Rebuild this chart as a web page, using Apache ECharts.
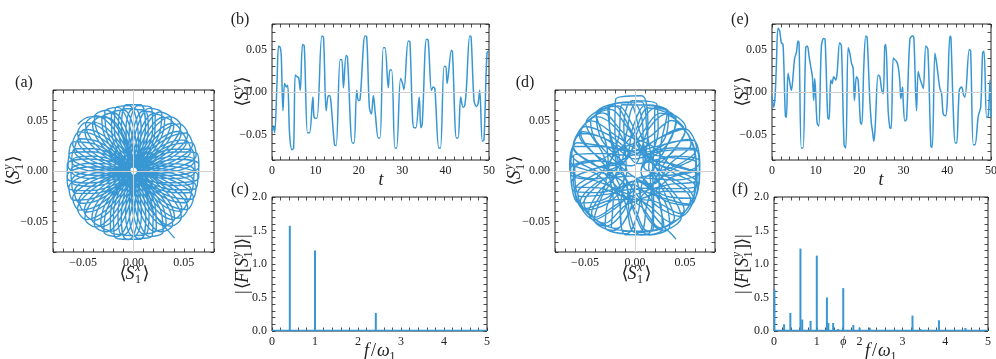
<!DOCTYPE html>
<html>
<head>
<meta charset="utf-8">
<script src="https://cdn.jsdelivr.net/npm/echarts@6.0.0/dist/echarts.min.js"></script>
<style>
  html, body { margin: 0; padding: 0; background: #fff; }
  #chart { width: 996px; height: 359px; }
</style>
</head>
<body>
<div id="chart"></div>
<script>
var BLUE = '#3897d3';
var INK = '#222';
var SERIF = "'Liberation Serif', 'DejaVu Serif', serif";

// (b) time trace <S1^y>(t) as [t, value]
var traceB = [
  [0,-0.046],[0.15,-0.044],[0.38,-0.04],[0.61,-0.048],[1.15,0.01],[1.53,0.054],[1.91,0.052],[2.14,0.042],
  [2.53,-0.022],[2.91,0.01],[3.29,0.006],[3.6,0.008],[4.06,-0.05],[4.59,-0.068],[4.98,-0.066],
  [5.36,0.02],[5.74,0.018],[6.13,0.017],[6.51,0.002],[7.04,0.056],[7.43,0.054],[8.19,-0.048],[8.65,-0.048],
  [9.42,-0.006],[9.72,-0.03],[10.34,-0.031],[11.49,0.066],[11.87,0.064],[12.48,-0.022],[12.86,-0.006],
  [13.25,-0.004],[13.55,-0.01],[14.4,-0.062],[14.78,-0.063],[15.7,0.038],[16.08,0.038],[16.46,0.005],
  [17.08,0.043],[17.38,0.041],[18.53,-0.06],[18.91,-0.06],[19.53,0.002],[19.91,-0.01],[20.29,-0.009],
  [21.44,0.066],[21.82,0.065],[22.43,-0.018],[22.89,-0.026],[23.35,-0.004],[23.81,-0.026],[24.5,-0.054],
  [24.89,-0.054],[25.65,0.052],[26.03,0.052],[26.8,0.005],[27.18,0.026],[27.57,0.026],[28.33,-0.066],
  [28.71,-0.066],[29.63,0.016],[30.09,0.01],[30.4,0.003],[31.39,0.06],[31.78,0.059],[32.39,-0.032],
  [32.77,-0.042],[33.15,-0.042],[33.92,-0.006],[34.3,-0.042],[34.61,-0.038],[35.6,0.062],[35.99,0.061],
  [36.75,0.002],[37.14,0.006],[37.52,0.004],[38.44,-0.066],[38.82,-0.066],[39.66,0.03],[40.05,0.03],
  [40.35,0.01],[41.35,0.049],[41.58,0.047],[42.5,-0.054],[42.88,-0.054],[43.49,-0.006],[44.03,-0.018],
  [44.41,-0.016],[44.79,0.004],[45.56,0.066],[45.87,0.065],[46.55,-0.01],[47.09,-0.017],[47.47,-0.014],
  [47.86,0.002],[48.47,-0.058],[48.85,-0.056],[49.54,0.046],[50,0.048]
];

// (e) time trace <S1^y>(t)
var traceE = [
  [0,-0.004],[0.08,-0.01],[0.38,-0.018],[0.69,-0.006],[0.99,0.03],[1.37,0.075],[1.75,0.072],[2.13,0.058],
  [2.52,0.056],[3.05,-0.028],[3.28,-0.03],[3.66,0.022],[4.04,0.012],[4.42,0.002],[4.73,0.014],[5.18,0.04],
  [5.56,0.046],[5.95,0.06],[6.17,0.058],[6.71,-0.066],[7.09,-0.066],[7.7,0.052],[8.08,0.054],[8.46,0.042],
  [8.84,0.03],[9.22,0.018],[9.53,-0.01],[9.76,0.016],[10.29,-0.036],[10.67,-0.04],[11.28,0.054],
  [11.81,0.063],[12.12,0.062],[12.73,-0.03],[13.03,-0.032],[13.41,0.014],[13.72,0.01],[14.1,0.018],
  [14.56,0.014],[14.86,0.022],[15.47,0.058],[15.85,0.054],[16.46,-0.062],[16.84,-0.066],[17.38,0.052],
  [17.76,0.046],[18.14,0.034],[18.52,0.028],[18.83,-0.01],[19.28,0.018],[19.66,0.014],[20.2,-0.036],
  [20.5,-0.038],[20.96,0.03],[21.42,0.066],[21.72,0.064],[22.33,-0.01],[22.71,-0.038],[22.94,-0.046],
  [23.25,-0.058],[23.55,-0.042],[24.24,0.02],[24.62,0.018],[25.0,0.004],[25.38,-0.002],[25.76,0.054],
  [25.99,0.056],[26.52,-0.022],[26.91,-0.042],[27.21,-0.043],[27.67,0.04],[28.05,0.038],[28.43,0.036],
  [28.81,0.03],[29.19,0.012],[29.42,-0.008],[29.8,0.006],[29.95,-0.01],[30.34,-0.034],[30.72,-0.032],
  [31.48,0.062],[32.09,0.066],[32.39,0.063],[33.0,-0.022],[33.38,0.024],[33.77,0.016],[34.15,0.01],
  [34.53,0.004],[35.14,0.054],[35.59,0.05],[36.28,-0.064],[36.59,-0.065],[37.2,0.046],[37.58,0.034],
  [37.96,0.018],[38.34,0.004],[38.72,-0.002],[39.1,-0.026],[39.63,-0.028],[40.02,-0.01],[40.63,0.066],
  [40.85,0.064],[41.39,-0.022],[41.84,-0.06],[42.15,-0.06],[42.76,0.002],[43.29,0.006],[43.67,-0.002],
  [44.05,-0.006],[45.05,0.05],[45.35,0.048],[45.96,-0.062],[46.34,-0.062],[47.1,-0.028],[47.64,-0.018],
  [48.09,0.046],[48.4,0.048],[49.01,-0.03],[49.39,-0.028],[49.77,0.014],[50,-0.03]
];

// (c) and (f) spectra, [f / w1, |<F[S1^y]>|]
var specC = [[0.414,1.57],[1.0,1.2],[2.414,0.27]];
var specF = [
  [0.01,0.62],[0.236,0.1],[0.382,0.27],[0.618,1.23],[0.66,0.17],[0.854,0.15],[1.0,1.125],
  [1.236,0.5],[1.27,0.12],[1.382,0.12],[1.5,0.03],[1.618,0.64],[1.854,0.09],[2.0,0.05],
  [2.236,0.05],[2.5,0.015],[2.8,0.01],[3.236,0.23],[3.42,0.03],[3.854,0.16],[4.0,0.01],[4.472,0.045]
];
var floorC = [[0,0.006],[5,0.006]];
var floorF = [[0,0.008],[5,0.008]];

// (a) orbit (<S1^x>, <S1^y>) written as [radius, angle in degrees]
var orbitA = [
  [0.072,140],[0.069,129],[0.058,115],[0.030,104],
  [0.005,265],[0.045,345],[0.065,354],[0.065,6],[0.045,15],
  [0.004,95],[0.046,175],[0.066,184],[0.066,196],[0.046,205],
  [0.006,285],[0.044,5],[0.064,14],[0.064,26],[0.044,35],
  [0.005,115],[0.046,195],[0.066,204],[0.066,216],[0.046,225],
  [0.004,305],[0.045,25],[0.065,34],[0.065,46],[0.045,55],
  [0.005,135],[0.047,215],[0.067,224],[0.067,236],[0.047,245],
  [0.006,325],[0.044,45],[0.064,54],[0.064,66],[0.044,75],
  [0.005,155],[0.046,235],[0.067,244],[0.067,256],[0.046,265],
  [0.004,345],[0.045,65],[0.065,74],[0.065,86],[0.045,95],
  [0.005,175],[0.047,255],[0.068,264],[0.068,276],[0.047,285],
  [0.006,5],[0.045,85],[0.065,94],[0.065,106],[0.045,115],
  [0.005,195],[0.046,275],[0.067,284],[0.067,296],[0.046,305],
  [0.004,25],[0.046,105],[0.066,114],[0.066,126],[0.046,135],
  [0.005,215],[0.046,295],[0.066,304],[0.066,316],[0.046,325],
  [0.006,45],[0.047,125],[0.067,134],[0.067,146],[0.047,155],
  [0.005,235],[0.045,315],[0.065,324],[0.065,336],[0.045,345],
  [0.004,65],[0.046,145],[0.066,154],[0.066,166],[0.046,175],
  [0.005,255],[0.044,335],[0.064,344],[0.064,356],[0.044,5],
  [0.006,85],[0.046,165],[0.066,174],[0.066,186],[0.046,195],
  [0.005,275],[0.045,355],[0.065,4],[0.065,16],[0.045,25],
  [0.004,105],[0.046,185],[0.066,194],[0.066,206],[0.046,215],
  [0.005,295],[0.044,15],[0.064,24],[0.064,36],[0.044,45],
  [0.006,125],[0.047,205],[0.067,214],[0.067,226],[0.047,235],
  [0.005,315],[0.045,35],[0.065,44],[0.065,56],[0.045,65],
  [0.004,145],[0.046,225],[0.066,234],[0.066,246],[0.046,255],
  [0.005,335],[0.044,55],[0.064,64],[0.064,76],[0.044,85],
  [0.006,165],[0.047,245],[0.068,254],[0.068,266],[0.047,275],
  [0.005,355],[0.046,75],[0.066,84],[0.066,96],[0.046,105],
  [0.004,185],[0.046,265],[0.067,274],[0.067,286],[0.046,295],
  [0.005,15],[0.045,95],[0.065,104],[0.065,116],[0.045,125],
  [0.006,205],[0.046,285],[0.066,294],[0.066,306],[0.046,315],
  [0.005,35],[0.046,115],[0.066,124],[0.066,136],[0.046,145],
  [0.004,225],[0.045,305],[0.065,314],[0.065,326],[0.045,335],
  [0.005,55],[0.046,135],[0.066,144],[0.066,156],[0.046,165],
  [0.006,245],[0.044,325],[0.064,334],[0.064,346],[0.044,355],
  [0.005,75],[0.045,155],[0.065,164],[0.065,176],[0.045,185],
  [0.005,270],[0.043,350],[0.061,359],[0.061,11],[0.043,20],
  [0.004,100],[0.044,180],[0.062,189],[0.062,201],[0.044,210],
  [0.006,290],[0.042,10],[0.060,19],[0.060,31],[0.042,40],
  [0.005,120],[0.044,200],[0.062,209],[0.062,221],[0.044,230],
  [0.004,310],[0.043,30],[0.061,39],[0.061,51],[0.043,60],
  [0.005,140],[0.045,220],[0.063,229],[0.063,241],[0.045,250],
  [0.006,330],[0.042,50],[0.060,59],[0.060,71],[0.042,80],
  [0.005,160],[0.045,240],[0.064,249],[0.064,261],[0.045,270],
  [0.004,350],[0.043,70],[0.061,79],[0.061,91],[0.043,100],
  [0.005,180],[0.045,260],[0.064,269],[0.064,281],[0.045,290],
  [0.006,10],[0.043,90],[0.061,99],[0.061,111],[0.043,120],
  [0.005,200],[0.044,280],[0.063,289],[0.063,301],[0.044,310],
  [0.004,30],[0.044,110],[0.062,119],[0.062,131],[0.044,140],
  [0.005,220],[0.044,300],[0.062,309],[0.062,321],[0.044,330],
  [0.006,50],[0.045,130],[0.063,139],[0.063,151],[0.045,160],
  [0.005,240],[0.043,320],[0.061,329],[0.061,341],[0.043,350],
  [0.004,70],[0.044,150],[0.062,159],[0.062,171],[0.044,180],
  [0.005,260],[0.042,340],[0.060,349],[0.060,1],[0.042,10],
  [0.006,90],[0.044,170],[0.062,179],[0.062,191],[0.044,200],
  [0.005,280],[0.043,0],[0.061,9],[0.061,21],[0.043,30],
  [0.004,110],[0.044,190],[0.062,199],[0.062,211],[0.044,220],
  [0.005,300],[0.042,20],[0.060,29],[0.060,41],[0.042,50],
  [0.006,130],[0.045,210],[0.063,219],[0.063,231],[0.045,240],
  [0.005,320],[0.043,40],[0.061,49],[0.061,61],[0.043,70],
  [0.004,150],[0.044,230],[0.063,239],[0.063,251],[0.044,260],
  [0.005,340],[0.042,60],[0.060,69],[0.060,81],[0.042,90],
  [0.006,170],[0.045,250],[0.064,259],[0.064,271],[0.045,280],
  [0.005,0],[0.044,80],[0.062,89],[0.062,101],[0.044,110],
  [0.004,190],[0.044,270],[0.063,279],[0.063,291],[0.044,300],
  [0.005,20],[0.043,100],[0.061,109],[0.061,121],[0.043,130],
  [0.006,210],[0.044,290],[0.062,299],[0.062,311],[0.044,320],
  [0.005,40],[0.044,120],[0.062,129],[0.062,141],[0.044,150],
  [0.004,230],[0.043,310],[0.061,319],[0.061,331],[0.043,340],
  [0.005,60],[0.044,140],[0.062,149],[0.062,161],[0.044,170],
  [0.006,250],[0.042,330],[0.060,339],[0.060,351],[0.042,0],
  [0.005,80],[0.043,160],[0.061,169],[0.061,181],[0.043,190],
  [0.005,275],[0.045,296],[0.059,298],[0.068,300],[0.078,301.5]
];

// (d) orbit, same form
var orbitD = [
  [0.010,27],[0.044,73],[0.075,85],[0.074,105],[0.044,117],
  [0.015,164],[0.042,210],[0.062,222],[0.062,242],[0.042,254],
  [0.008,302],[0.043,348],[0.064,0],[0.064,20],[0.043,32],
  [0.018,80],[0.044,126],[0.066,138],[0.066,158],[0.044,170],
  [0.012,217],[0.043,263],[0.064,275],[0.064,295],[0.043,307],
  [0.006,354],[0.044,40],[0.066,52],[0.066,72],[0.044,84],
  [0.014,132],[0.043,178],[0.064,190],[0.064,210],[0.043,222],
  [0.010,270],[0.043,316],[0.064,328],[0.064,348],[0.043,0],
  [0.016,47],[0.045,93],[0.067,105],[0.067,125],[0.045,137],
  [0.008,184],[0.042,230],[0.063,242],[0.063,262],[0.042,274],
  [0.012,322],[0.043,8],[0.065,20],[0.065,40],[0.043,52],
  [0.020,100],[0.044,146],[0.065,158],[0.065,178],[0.044,190],
  [0.006,237],[0.043,283],[0.065,295],[0.065,315],[0.043,327],
  [0.014,14],[0.046,60],[0.070,72],[0.070,92],[0.046,104],
  [0.010,152],[0.042,198],[0.063,210],[0.063,230],[0.042,242],
  [0.018,290],[0.043,336],[0.065,348],[0.065,8],[0.043,20],
  [0.008,67],[0.044,113],[0.066,125],[0.066,145],[0.044,157],
  [0.012,204],[0.043,250],[0.064,262],[0.064,282],[0.043,294],
  [0.016,342],[0.044,28],[0.066,40],[0.066,60],[0.044,72],
  [0.006,120],[0.043,166],[0.064,178],[0.064,198],[0.043,210],
  [0.014,257],[0.043,303],[0.064,315],[0.064,335],[0.043,347],
  [0.010,34],[0.045,80],[0.068,92],[0.068,112],[0.045,124],
  [0.018,172],[0.042,218],[0.063,230],[0.063,250],[0.042,262],
  [0.008,310],[0.043,356],[0.065,8],[0.065,28],[0.043,40],
  [0.012,87],[0.044,133],[0.065,145],[0.065,165],[0.044,177],
  [0.016,224],[0.043,270],[0.065,282],[0.065,302],[0.043,314],
  [0.006,2],[0.045,48],[0.067,60],[0.067,80],[0.045,92],
  [0.014,140],[0.042,186],[0.063,198],[0.063,218],[0.042,230],
  [0.010,277],[0.043,323],[0.064,335],[0.064,355],[0.043,7],
  [0.018,54],[0.044,100],[0.066,112],[0.066,132],[0.044,144],
  [0.022,324],[0.036,12],[0.062,26],[0.062,54],[0.036,68],
  [0.026,115],[0.037,163],[0.060,177],[0.060,205],[0.037,219],
  [0.018,266],[0.036,314],[0.062,328],[0.062,356],[0.036,10],
  [0.030,57],[0.038,105],[0.066,119],[0.066,147],[0.038,161],
  [0.020,208],[0.036,256],[0.061,270],[0.061,298],[0.036,312],
  [0.024,359],[0.038,47],[0.066,61],[0.066,89],[0.038,103],
  [0.016,150],[0.036,198],[0.060,212],[0.060,240],[0.036,254],
  [0.028,301],[0.036,349],[0.061,3],[0.061,31],[0.036,45],
  [0.020,92],[0.038,140],[0.064,154],[0.064,182],[0.038,196],
  [0.024,243],[0.036,291],[0.062,305],[0.062,333],[0.036,347],
  [0.018,34],[0.038,82],[0.069,96],[0.069,124],[0.038,138],
  [0.026,185],[0.036,233],[0.060,247],[0.060,275],[0.036,289],
  [0.022,336],[0.037,24],[0.063,38],[0.063,66],[0.037,80],
  [0.016,127],[0.037,175],[0.062,189],[0.062,217],[0.037,231],
  [0.028,278],[0.036,326],[0.061,340],[0.061,8],[0.036,22],
  [0.020,69],[0.038,117],[0.066,131],[0.066,159],[0.038,173],
  [0.024,220],[0.036,268],[0.061,282],[0.061,310],[0.036,324],
  [0.018,11],[0.038,59],[0.067,73],[0.067,101],[0.038,115],
  [0.026,162],[0.036,210],[0.060,224],[0.060,252],[0.036,266],
  [0.022,313],[0.036,1],[0.062,15],[0.062,43],[0.036,57],
  [0.016,104],[0.037,152],[0.063,166],[0.063,194],[0.037,208],
  [0.028,255],[0.036,303],[0.062,317],[0.062,345],[0.036,359],
  [0.020,46],[0.038,94],[0.068,108],[0.068,136],[0.038,150],
  [0.024,197],[0.036,245],[0.061,259],[0.061,287],[0.036,301],
  [0.018,348],[0.037,36],[0.064,50],[0.064,78],[0.037,92],
  [0.026,139],[0.036,187],[0.061,201],[0.061,229],[0.036,243],
  [0.022,290],[0.036,338],[0.062,352],[0.062,20],[0.036,34],
  [0.016,81],[0.038,129],[0.065,143],[0.065,171],[0.038,185],
  [0.028,232],[0.036,280],[0.062,294],[0.062,322],[0.036,336],
  [0.020,23],[0.038,71],[0.069,85],[0.069,113],[0.038,127],
  [0.012,225],[0.045,292],[0.062,297],[0.072,300],[0.079,301]
];

// tick labels
var spinTicks = [-0.05, 0, 0.05];
var timeTicks = [0, 10, 20, 30, 40, 50];
var ampTicks = [0, 0.5, 1, 1.5, 2];
var freqTicks = [0, 1, 2, 3, 4, 5];
var freqTicksF = [0, 1, 1.618, 2, 3, 4, 5];

var fmtSpin = function (v) { return (v < -1e-9 ? '\u2212' : '') + Math.abs(v).toFixed(2); };
var fmtAmp = function (v) { return v.toFixed(1); };
var fmtInt = function (v) { return String(Math.round(v)); };
var fmtFreqF = function (v) { return Math.abs(v - 1.618) < 1e-6 ? '{phi|\u03d5}' : String(Math.round(v)); };

var spin = {min: -0.08, max: 0.08, step: 0.01, ticks: spinTicks, fmt: fmtSpin};
var time = {min: 0, max: 50, step: 2, ticks: timeTicks, fmt: fmtInt};
var amp = {min: 0, max: 2, step: 0.1, ticks: ampTicks, fmt: fmtAmp};
var freq = {min: 0, max: 5, step: 0.2, ticks: freqTicks, fmt: fmtInt};
var freqF = {min: 0, max: 5, step: 0.2, ticks: freqTicksF, fmt: fmtFreqF};

var grids = [
  {left: 53, top: 90, width: 161, height: 162},
  {left: 272, top: 24, width: 217, height: 136},
  {left: 272, top: 197, width: 215, height: 134},
  {left: 555, top: 90, width: 160, height: 162},
  {left: 772, top: 24, width: 219, height: 136},
  {left: 774, top: 197, width: 214, height: 134}
];

var xAxes = [], yAxes = [];
function axis(g, s, pos, labels) {
  return {
    gridIndex: g, type: 'value', position: pos,
    min: s.min, max: s.max, interval: s.step,
    axisLine: {show: false, onZero: false},
    axisTick: {show: true, inside: true, length: 3.5, lineStyle: {color: INK, width: 0.8}},
    splitLine: {show: false},
    axisLabel: labels ? {
      show: true, customValues: s.ticks, formatter: s.fmt,
      color: INK, fontFamily: SERIF, fontSize: 12, margin: 5,
      showMinLabel: true, showMaxLabel: true,
      rich: {phi: {fontFamily: SERIF, fontStyle: 'italic', fontSize: 12, color: INK}}
    } : {show: false}
  };
}
function addAxes(g, xs, ys) {
  xAxes.push(axis(g, xs, 'bottom', true), axis(g, xs, 'top', false));
  yAxes.push(axis(g, ys, 'left', true), axis(g, ys, 'right', false));
}
addAxes(0, spin, spin);
addAxes(1, time, spin);
addAxes(2, freq, amp);
addAxes(3, spin, spin);
addAxes(4, time, spin);
addAxes(5, freqF, amp);

function zeroLines(g, both) {
  var d = [{yAxis: 0}];
  if (both) d.push({xAxis: 0});
  return {
    type: 'line', xAxisIndex: 2 * g, yAxisIndex: 2 * g, data: [], z: 1,
    markLine: {silent: true, symbol: 'none', label: {show: false},
      lineStyle: {color: '#cfcfcf', width: 1, type: 'solid'}, data: d}
  };
}
function trace(g, data) {
  return {type: 'line', xAxisIndex: 2 * g, yAxisIndex: 2 * g, data: data, z: 3,
    smooth: 0.35, showSymbol: false, lineStyle: {color: BLUE, width: 1.5}};
}
function spikes(g, data) {
  return {type: 'bar', xAxisIndex: 2 * g, yAxisIndex: 2 * g, data: data, z: 3,
    barWidth: 2, itemStyle: {color: BLUE}};
}
function orbit(p, data) {
  return {type: 'line', coordinateSystem: 'polar', polarIndex: p, data: data, z: 3,
    smooth: 0.35, showSymbol: false, lineStyle: {color: BLUE, width: 1.4}};
}

var series = [
  zeroLines(0, true), orbit(0, orbitA),
  zeroLines(1, false), trace(1, traceB),
  spikes(2, specC), trace(2, floorC),
  zeroLines(3, true), orbit(1, orbitD),
  zeroLines(4, false), trace(4, traceE),
  spikes(5, specF), trace(5, floorF)
];

function mathText(cx, cy, parts, w, vertical) {
  return {
    type: 'group', x: cx, y: cy, rotation: vertical ? Math.PI / 2 : 0,
    children: parts.map(function (p) {
      return {
        type: 'text', x: p[1] - w / 2, y: p[4] || 0,
        style: {text: p[0], font: (p[3] ? 'italic ' : '') + p[2] + 'px ' + SERIF,
          fill: INK, textVerticalAlign: 'middle', verticalAlign: 'middle'}
      };
    })
  };
}
function spinLabel(sup) {
  return [['\u27e8', 0, 18], ['S', 6, 18, true], [sup, 15.8, 12, true, -6.5],
    ['1', 15.5, 12, false, 5.5], ['\u27e9', 23, 18]];
}
var fourierLabel = [['|', 0, 18], ['\u27e8', 5, 18], ['F', 11, 18, true], ['[', 21.5, 18],
  ['S', 27, 18, true], ['y', 36.8, 12, true, -6.5], ['1', 36.5, 12, false, 5.5],
  [']', 44, 18], ['\u27e9', 49, 18], ['|', 56, 18]];
var freqLabel = [['f', 0, 18, true], ['/', 7, 18], ['\u03c9', 13, 18, true], ['1', 25.5, 12, false, 5.5]];
var timeLabel = [['t', 0, 18, true]];

function panelTag(x, y, s) {
  return {type: 'text', x: x, y: y, style: {text: s, font: '16px ' + SERIF, fill: INK,
    textAlign: 'center', align: 'center', textVerticalAlign: 'middle', verticalAlign: 'middle'}};
}

var graphic = [
  panelTag(24, 83, '(a)'), panelTag(240, 20, '(b)'), panelTag(240, 190, '(c)'),
  panelTag(525, 83, '(d)'), panelTag(740, 20, '(e)'), panelTag(740, 190, '(f)'),
  mathText(134, 274, spinLabel('x'), 29, false), mathText(14, 171, spinLabel('y'), 29, true),
  mathText(243, 92, spinLabel('y'), 29, true), mathText(381, 180, timeLabel, 5, false),
  mathText(243, 264, fourierLabel, 60, true), mathText(380, 351, freqLabel, 32, false),
  mathText(636, 274, spinLabel('x'), 29, false), mathText(515, 171, spinLabel('y'), 29, true),
  mathText(743, 92, spinLabel('y'), 29, true), mathText(881, 180, timeLabel, 5, false),
  mathText(743, 264, fourierLabel, 60, true), mathText(881, 351, freqLabel, 32, false)
];

var chart = echarts.init(document.getElementById('chart'), null, {renderer: 'canvas'});
chart.setOption({
  backgroundColor: '#fff',
  animation: false,
  grid: grids.map(function (g) {
    return {left: g.left, top: g.top, width: g.width, height: g.height, containLabel: false,
      outerBoundsMode: 'none', show: true, borderColor: INK, borderWidth: 1, backgroundColor: 'transparent'};
  }),
  xAxis: xAxes,
  yAxis: yAxes,
  polar: [{center: [133.5, 171], radius: 80.7}, {center: [635, 171], radius: 80.5}],
  angleAxis: [
    {polarIndex: 0, type: 'value', min: 0, max: 360, startAngle: 0, clockwise: false, show: false},
    {polarIndex: 1, type: 'value', min: 0, max: 360, startAngle: 0, clockwise: false, show: false}
  ],
  radiusAxis: [
    {polarIndex: 0, type: 'value', min: 0, max: 0.08, show: false},
    {polarIndex: 1, type: 'value', min: 0, max: 0.08, show: false}
  ],
  series: series,
  graphic: graphic
});
</script>
</body>
</html>
